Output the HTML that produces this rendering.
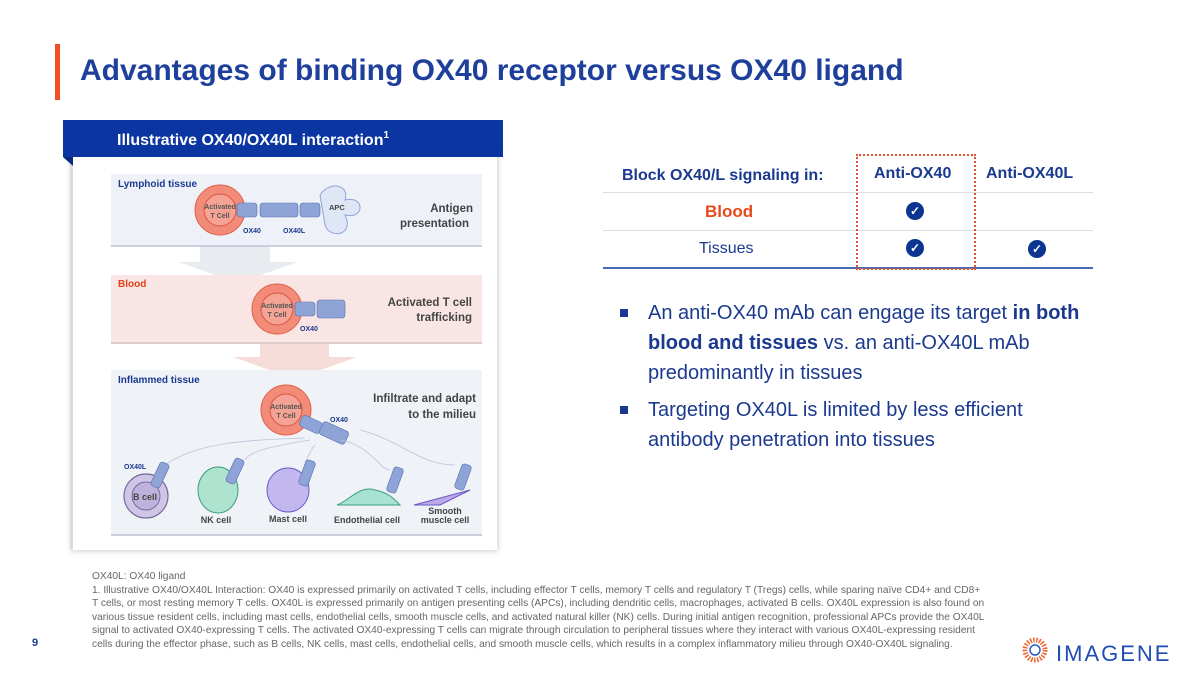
<!DOCTYPE html>
<html><head><meta charset="utf-8"><style>
*{margin:0;padding:0;box-sizing:border-box}
body{width:1200px;height:675px;background:#fff;position:relative;overflow:hidden;font-family:"Liberation Sans",Arial,sans-serif}
.a{position:absolute;white-space:nowrap}
.blue{color:#1b3a8f}
.chk{position:absolute;width:18px;height:18px;border-radius:50%;background:#0b3591;color:#fff;font-size:12px;font-weight:bold;text-align:center;line-height:18px}
.bul{position:absolute;left:620px;font-size:20px;color:#1b3a8f;line-height:30px;width:470px}
.bul b{font-weight:bold}
.sq{position:absolute;left:0;top:11px;width:8px;height:8px;background:#1b3a8f}
.foot{position:absolute;left:92px;top:570px;font-size:10.2px;color:#666;line-height:13.5px;white-space:nowrap}
</style></head><body>
<div class="a" style="left:55px;top:44px;width:5px;height:56px;background:#f04e23"></div>
<div class="a blue" style="left:80px;top:54px;font-size:30px;font-weight:bold;color:#1e3f9b">Advantages of binding OX40 receptor versus OX40 ligand</div>

<svg class="a" style="left:0;top:0" width="520" height="560">
<defs><filter id="sh" x="-5%" y="-5%" width="110%" height="110%"><feDropShadow dx="1" dy="1" stdDeviation="3" flood-color="#999" flood-opacity="0.5"/></filter></defs>
<rect x="70" y="150" width="427" height="400" fill="#fff" filter="url(#sh)"/>
<rect x="70" y="155" width="3" height="395" fill="#ddd"/>
<polygon points="63,157 73,157 73,166" fill="#0a2a7a"/>
<rect x="63" y="120" width="440" height="37" fill="#0b35a0"/>
<text x="117" y="145" font-size="16" font-weight="bold" fill="#fff" font-family="Liberation Sans">Illustrative OX40/OX40L interaction<tspan font-size="10" dy="-7">1</tspan></text>
<rect x="111" y="174" width="371" height="72" fill="#eef2f8"/><rect x="111" y="245" width="371" height="2" fill="#ccd"/>
<polygon points="200,247 270,247 270,262 298,262 238,283 178,262 200,262" fill="#e8ebf0"/>
<rect x="111" y="275" width="371" height="68" fill="#f9e6e4"/><rect x="111" y="342" width="371" height="2" fill="#dcc"/>
<polygon points="260,344 329,344 329,357 357,357 295,379 233,357 260,357" fill="#f5dcd8"/>
<rect x="111" y="370" width="371" height="165" fill="#eff2f7"/><rect x="111" y="534" width="371" height="2" fill="#ccd"/>
<g font-family="Liberation Sans" font-weight="bold">
<text x="118" y="187" font-size="10" fill="#1b3a8f">Lymphoid tissue</text>
<text x="118" y="287" font-size="10" fill="#e0401a">Blood</text>
<text x="118" y="383" font-size="10" fill="#1b3a8f">Inflammed tissue</text>
<text x="473" y="212" font-size="11.5" fill="#444" text-anchor="end">Antigen</text>
<text x="469" y="227" font-size="11.5" fill="#444" text-anchor="end">presentation</text>
<text x="472" y="306" font-size="11.5" fill="#444" text-anchor="end">Activated T cell</text>
<text x="472" y="321" font-size="11.5" fill="#444" text-anchor="end">trafficking</text>
<text x="476" y="402" font-size="11.5" fill="#444" text-anchor="end">Infiltrate and adapt</text>
<text x="476" y="418" font-size="11.5" fill="#444" text-anchor="end">to the milieu</text>
</g>
<g fill="#f28b78" stroke="#e0604a">
<circle cx="220" cy="210" r="25"/><circle cx="277" cy="309" r="25"/><circle cx="286" cy="410" r="25"/>
</g>
<g fill="#f5a394" stroke="#d9553f"><circle cx="220" cy="210" r="16"/><circle cx="277" cy="309" r="16"/><circle cx="286" cy="410" r="16"/></g>
<g font-family="Liberation Sans" font-size="7" font-weight="bold" fill="#555" text-anchor="middle">
<text x="220" y="209">Activated</text><text x="220" y="218">T Cell</text>
<text x="277" y="308">Activated</text><text x="277" y="317">T Cell</text>
<text x="286" y="409">Activated</text><text x="286" y="418">T Cell</text>
</g>
<g fill="#8ea3d6" stroke="#5a6fb0" stroke-width="0.6">
<rect x="237" y="203" width="20" height="14" rx="3"/><rect x="260" y="203" width="38" height="14" rx="3"/><rect x="300" y="203" width="20" height="14" rx="3"/>
<rect x="295" y="302" width="20" height="14" rx="3"/><rect x="317" y="300" width="28" height="18" rx="3"/>
<rect x="300" y="418" width="22" height="12" rx="3" transform="rotate(25 310 424)"/><rect x="320" y="426" width="28" height="14" rx="3" transform="rotate(25 334 433)"/>
</g>
<path d="M320,195 C330,180 350,185 345,200 C365,195 365,220 345,215 C355,235 330,240 325,225 Z" fill="#dfe6f5" stroke="#8ea3d6"/>
<text x="329" y="210" font-size="7.5" font-weight="bold" fill="#444" font-family="Liberation Sans">APC</text>
<g font-family="Liberation Sans" font-size="7" font-weight="bold" fill="#1b3a8f">
<text x="243" y="233">OX40</text><text x="283" y="233">OX40L</text><text x="300" y="331">OX40</text><text x="330" y="422">OX40</text><text x="124" y="469">OX40L</text>
</g>
<g fill="none" stroke="#bbc3d8" stroke-width="0.8">
<path d="M305,438 C260,440 200,440 165,465"/><path d="M310,440 C280,445 250,450 245,460"/>
<path d="M315,445 C310,450 310,455 305,462"/><path d="M340,440 C370,445 380,470 390,470"/><path d="M360,430 C400,440 420,465 455,465"/>
</g>
<circle cx="146" cy="496" r="22" fill="#cfc6e6" stroke="#766a9e" stroke-width="1.2"/><circle cx="146" cy="496" r="14" fill="#bfb3dd" stroke="#766a9e"/>
<text x="133" y="500" font-size="9" font-weight="bold" fill="#444" font-family="Liberation Sans">B cell</text>
<ellipse cx="218" cy="490" rx="20" ry="23" fill="#aee3cf" stroke="#3c9e7d"/>
<ellipse cx="288" cy="490" rx="21" ry="22" fill="#c2b7ef" stroke="#6b59c4"/>
<path d="M337,505 C350,500 360,485 375,490 C390,493 395,500 400,505 Z" fill="#a8e2d0" stroke="#3c9e7d"/>
<path d="M414,505 L470,490 L440,505 Z" fill="#bba9ea" stroke="#6b59c4"/>
<g fill="#8ea3d6" stroke="#5a6fb0" stroke-width="0.6">
<rect x="155" y="462" width="10" height="26" rx="3" transform="rotate(25 160 475)"/>
<rect x="230" y="458" width="10" height="26" rx="3" transform="rotate(25 235 471)"/>
<rect x="302" y="460" width="10" height="26" rx="3" transform="rotate(20 307 473)"/>
<rect x="390" y="467" width="10" height="26" rx="3" transform="rotate(20 395 480)"/>
<rect x="458" y="464" width="10" height="26" rx="3" transform="rotate(20 463 477)"/>
</g>
<g font-family="Liberation Sans" font-size="9" font-weight="bold" fill="#444" text-anchor="middle">
<text x="216" y="523">NK cell</text><text x="288" y="522">Mast cell</text><text x="367" y="523">Endothelial cell</text><text x="445" y="514">Smooth</text><text x="445" y="523">muscle cell</text>
</g>
</svg>

<div class="a blue" style="left:622px;top:167px;font-size:16px;font-weight:bold">Block OX40/L signaling in:</div>
<div class="a blue" style="left:874px;top:165px;font-size:16px;font-weight:bold">Anti-OX40</div>
<div class="a blue" style="left:986px;top:165px;font-size:16px;font-weight:bold">Anti-OX40L</div>
<div class="a" style="left:603px;top:192px;width:490px;height:1px;background:#ddd"></div>
<div class="a" style="left:603px;top:230px;width:490px;height:1px;background:#ddd"></div>
<div class="a" style="left:603px;top:267px;width:490px;height:2px;background:#4a6bb5"></div>
<div class="a" style="left:705px;top:202px;font-size:17px;font-weight:bold;color:#e84a1c">Blood</div>
<div class="a blue" style="left:699px;top:240px;font-size:16px">Tissues</div>
<div class="chk" style="left:906px;top:202px">✓</div>
<div class="chk" style="left:906px;top:239px">✓</div>
<div class="chk" style="left:1028px;top:240px">✓</div>
<div class="a" style="left:856px;top:154px;width:120px;height:116px;border:2px dotted #e0532d"></div>

<div class="bul" style="top:298px;padding-left:28px"><span class="sq"></span>An anti-OX40 mAb can engage its target <b>in both blood and tissues</b> vs. an anti-OX40L mAb predominantly in tissues</div>
<div class="bul" style="top:395px;padding-left:28px"><span class="sq"></span>Targeting OX40L is limited by less efficient antibody penetration into tissues</div>

<div class="foot">OX40L: OX40 ligand<br>1. Illustrative OX40/OX40L Interaction: OX40 is expressed primarily on activated T cells, including effector T cells, memory T cells and regulatory T (Tregs) cells, while sparing naïve CD4+ and CD8+<br>T cells, or most resting memory T cells. OX40L is expressed primarily on antigen presenting cells (APCs), including dendritic cells, macrophages, activated B cells. OX40L expression is also found on<br>various tissue resident cells, including mast cells, endothelial cells, smooth muscle cells, and activated natural killer (NK) cells. During initial antigen recognition, professional APCs provide the OX40L<br>signal to activated OX40-expressing T cells. The activated OX40-expressing T cells can migrate through circulation to peripheral tissues where they interact with various OX40L-expressing resident<br>cells during the effector phase, such as B cells, NK cells, mast cells, endothelial cells, and smooth muscle cells, which results in a complex inflammatory milieu through OX40-OX40L signaling.</div>
<div class="a" style="left:32px;top:637px;font-size:11px;font-weight:bold;color:#1b3a8f">9</div>

<svg class="a" style="left:1022px;top:637px" width="30" height="30"><circle cx="13" cy="13" r="10" fill="none" stroke="#f0642d" stroke-width="5" stroke-dasharray="1.5 1.5"/><circle cx="13" cy="13" r="5" fill="none" stroke="#2a5bc4" stroke-width="1.5"/></svg>
<div class="a" style="left:1056px;top:641px;font-size:22px;color:#1f4db5;letter-spacing:2px">IMAGENE</div>
</body></html>
